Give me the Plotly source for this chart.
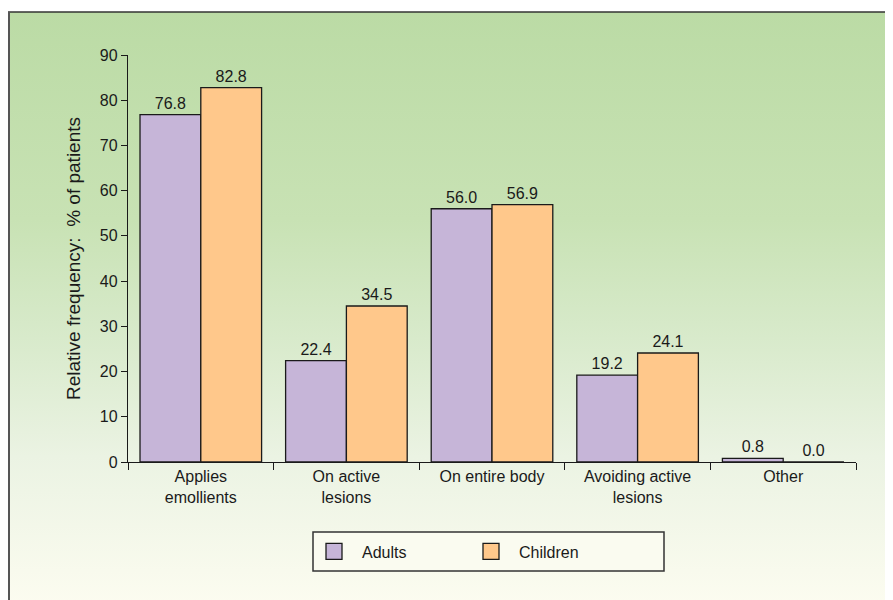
import base64
import plotly.graph_objects as go

categories = ["Applies<br>emollients", "On active<br>lesions", "On entire body",
              "Avoiding active<br>lesions", "Other"]
adults = [76.8, 22.4, 56.0, 19.2, 0.8]
children = [82.8, 34.5, 56.9, 24.1, 0.0]
y_ticks = [0, 10, 20, 30, 40, 50, 60, 70, 80, 90]

ADULT_C = "#C6B5D8"
CHILD_C = "#FFC88B"
FONT = "Liberation Sans, Arial, sans-serif"

fig = go.Figure()
fig.add_trace(go.Bar(x=categories, y=adults, name="Adults", marker=dict(color=ADULT_C, line=dict(color="#1a1a1a", width=1.3)),
                     text=[f"{v:.1f}" for v in adults], textposition="outside", cliponaxis=False,
                     textfont=dict(size=16, color="#1a1a1a"), showlegend=False))
fig.add_trace(go.Bar(x=categories, y=children, name="Children", marker=dict(color=CHILD_C, line=dict(color="#1a1a1a", width=1.3)),
                     text=[f"{v:.1f}" for v in children], textposition="outside", cliponaxis=False,
                     textfont=dict(size=16, color="#1a1a1a"), showlegend=False))
# legend entries
for nm, c in [("Adults", ADULT_C), ("Children", CHILD_C)]:
    fig.add_trace(go.Scatter(x=[None], y=[None], mode="markers", name=nm,
                             marker=dict(symbol="square", size=17, color=c, line=dict(color="#1a1a1a", width=1.3))))

svg = ('<svg xmlns="http://www.w3.org/2000/svg" width="100" height="100" preserveAspectRatio="none">'
       '<defs><linearGradient id="g" x1="0" y1="0" x2="0" y2="1">'
       '<stop offset="0" stop-color="#BBDBA5"/><stop offset="0.35" stop-color="#C8E2B4"/>'
       '<stop offset="0.55" stop-color="#D8EACB"/><stop offset="0.75" stop-color="#EBF3E3"/>'
       '<stop offset="1" stop-color="#FCFCF0"/></linearGradient></defs>'
       '<rect width="100" height="100" fill="url(#g)"/></svg>')
src = "data:image/svg+xml;base64," + base64.b64encode(svg.encode()).decode()

# page body has an 8px margin, so the figure is laid out 8px smaller
W, H = 885, 592
L, R, T, B = 120, 37, 47, 138
pw, ph = W - L - R, H - T - B
def px2x(p): return (p - L) / pw
def py2y(p): return (H - B - p) / ph

fig.add_layout_image(dict(source=src, xref="paper", yref="paper", x=px2x(0), y=py2y(4),
                          sizex=px2x(W + 5) - px2x(0), sizey=py2y(4) - py2y(H + 5),
                          xanchor="left", yanchor="top", sizing="stretch", layer="below"))
fig.add_shape(type="line", xref="paper", yref="paper", x0=px2x(0), x1=px2x(W + 5), y0=py2y(4), y1=py2y(4),
              line=dict(color="#333333", width=1.5))
fig.add_shape(type="line", xref="paper", yref="paper", x0=px2x(1), x1=px2x(1), y0=py2y(4), y1=py2y(H + 5),
              line=dict(color="#555555", width=2))
# legend frame
fig.add_shape(type="rect", xref="paper", yref="paper", x0=px2x(305), x1=px2x(656), y0=py2y(524), y1=py2y(563),
              line=dict(color="#333333", width=1.5), fillcolor="#FAFBF0", layer="below")

fig.update_layout(
    width=W, height=H, margin=dict(l=L, r=R, t=T, b=B),
    paper_bgcolor="white", plot_bgcolor="rgba(0,0,0,0)",
    barmode="group", bargap=0.165, bargroupgap=0,
    font=dict(family=FONT, size=16, color="#1a1a1a"),
    legend=dict(orientation="h", x=px2x(298), y=py2y(543.5), xanchor="left", yanchor="middle",
                bgcolor="rgba(0,0,0,0)", borderwidth=0,
                font=dict(size=16), entrywidth=96, itemwidth=46,
                ),
    xaxis=dict(showline=True, linecolor="#1a1a1a", linewidth=1.3, ticks="outside", tickson="boundaries",
               ticklen=7, tickcolor="#1a1a1a", tickfont=dict(size=16), showgrid=False),
    yaxis=dict(range=[0, 90], tickvals=y_ticks, showline=True, linecolor="#1a1a1a", linewidth=1.3,
               ticks="outside", ticklen=6, tickcolor="#1a1a1a", showgrid=False, zeroline=False,
               tickfont=dict(size=16),
               title=dict(text="Relative frequency:  % of patients", font=dict(size=19), standoff=14)),
)
fig.write_html("out.html")
